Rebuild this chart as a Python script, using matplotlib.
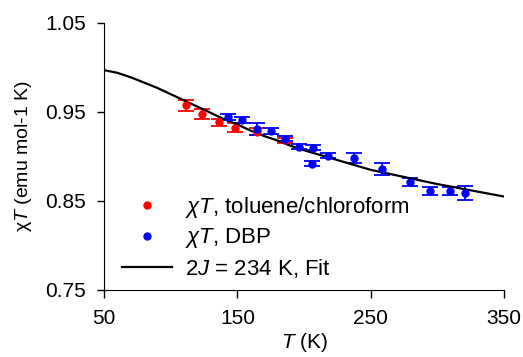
import matplotlib.pyplot as plt

plt.rcParams['font.family'] = ['Liberation Sans', 'DejaVu Sans']
plt.rcParams['mathtext.fontset'] = 'custom'
plt.rcParams['mathtext.rm'] = 'Liberation Sans'
plt.rcParams['mathtext.it'] = 'Liberation Sans:italic'

# toluene/chloroform (red)
t_red = [111.5, 123.7, 136.3, 148.2, 165.0, 186.0]
xt_red = [0.9575, 0.9474, 0.9384, 0.9324, 0.928, 0.918]
err_red = [0.0065, 0.0056, 0.004, 0.005, 0.004, 0.003]

# DBP (blue)
t_blue = [143.3, 153.3, 165.0, 175.3, 185.8, 196.3, 206.7, 206.0, 217.8, 237.8,
          258.2, 279.5, 294.3, 309.5, 320.8]
xt_blue = [0.9447, 0.941, 0.9306, 0.929, 0.920, 0.911, 0.910, 0.8918, 0.901, 0.898,
           0.8858, 0.871, 0.8614, 0.8613, 0.8587]
err_blue = [0.0035, 0.0035, 0.0065, 0.0035, 0.003, 0.003, 0.003, 0.003, 0.003, 0.0056,
            0.007, 0.0045, 0.0045, 0.0045, 0.008]

# fit curve
t_fit = [50, 60, 70, 80, 90, 100, 110, 120, 130, 140, 150, 160, 170, 180, 190,
         200, 225, 250, 275, 300, 325, 350]
xt_fit = [0.997, 0.994, 0.989, 0.983, 0.977, 0.970, 0.963, 0.956, 0.949, 0.942,
          0.936, 0.929, 0.923, 0.918, 0.912, 0.907, 0.896, 0.885, 0.877, 0.869,
          0.862, 0.855]

fig = plt.figure(figsize=(5.23, 3.57), dpi=100)
ax = fig.add_axes([0.199, 0.1877, 0.7647, 0.7479])

ax.errorbar(t_red, xt_red, yerr=err_red, fmt='o', color='#ff0000', ms=5,
            capsize=6, elinewidth=1.3, capthick=1.3)
ax.errorbar(t_blue, xt_blue, yerr=err_blue, fmt='o', color='#0000ff', ms=5,
            capsize=6, elinewidth=1.3, capthick=1.3)
ax.plot(t_fit, xt_fit, color='black', lw=1.6, label='2$J$ = 234 K, Fit')

# legend entries (dots only)
ax.plot([], [], 'o', color='#ff0000', ms=5, label=r'$\chi T$, toluene/chloroform')
ax.plot([], [], 'o', color='#0000ff', ms=5, label=r'$\chi T$, DBP')

h, l = ax.get_legend_handles_labels()
ax.legend([h[1], h[2], h[0]], [l[1], l[2], l[0]], loc='upper left',
          bbox_to_anchor=(0.045, 0.357), frameon=False, fontsize=16,
          borderpad=0, borderaxespad=0, handlelength=2.25, handletextpad=0.58,
          labelspacing=0.3)

ax.set_xlim(50, 350)
ax.set_ylim(0.75, 1.05)
ax.set_xticks([50, 150, 250, 350])
ax.set_yticks([0.75, 0.85, 0.95, 1.05])
ax.set_yticklabels(['0.75', '0.85', '0.95', '1.05'])
ax.spines['top'].set_visible(False)
ax.spines['right'].set_visible(False)
ax.tick_params(direction='out', width=1, labelsize=15)
ax.tick_params(axis='x', length=6, pad=8)
ax.tick_params(axis='y', length=5, pad=8)
ax.set_xlabel('$T$ (K)', fontsize=15, labelpad=2)
ax.set_ylabel('χ$T$ (emu mol-1 K)', fontsize=14, labelpad=8)

fig.savefig('out.png', dpi=100)
